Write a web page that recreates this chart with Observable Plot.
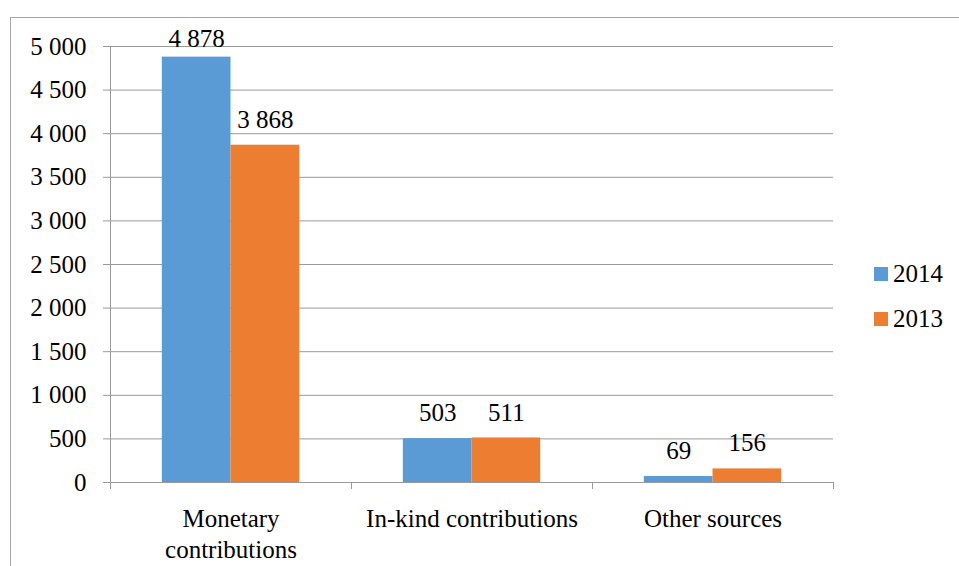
<!DOCTYPE html>
<html>
<head>
<meta charset="utf-8">
<script src="https://cdn.jsdelivr.net/npm/d3@7"></script>
<script src="https://cdn.jsdelivr.net/npm/@observablehq/plot@0.6"></script>
<style>
  body { margin: 0; background: #fff; }
  #chart {
    position: relative; width: 959px; height: 566px; overflow: hidden;
    font-family: 'Liberation Serif', 'Times New Roman', 'DejaVu Serif', serif; color: #000;
  }
  #chart svg { position: absolute; left: 0; top: 0; }
  #border {
    position: absolute; left: 10px; top: 17px; right: -2px; bottom: -2px;
    border-left: 1px solid #a6a6a6; border-top: 1px solid #a6a6a6;
  }
  #legend { position: absolute; left: 874px; top: 251px; font-size: 25px; }
  #legend .item { display: flex; align-items: center; height: 45px; }
  #legend .sw { width: 14px; height: 14px; margin-right: 5px; }
</style>
</head>
<body>
<div id="chart"><div id="border"></div><div id="legend"></div></div>
<script>
// Funding sources, 2014 vs 2013
const categories = ["Monetary\ncontributions", "In-kind contributions", "Other sources"];
const series = ["2014", "2013"];
const values2014 = [4878, 503, 69];
const values2013 = [3868, 511, 156];
const seriesColors = ["#5B9BD5", "#ED7D31"];
const yTicks = [0, 500, 1000, 1500, 2000, 2500, 3000, 3500, 4000, 4500, 5000];

const yMax = 5000;
const barWidth = 0.285;   // share of a category slot taken by each bar
const labelGap = 200;     // value labels sit just above their bar
const gridColor = "#999";
const fontSize = 25;
const serifFont = "'Liberation Serif', 'Times New Roman', 'DejaVu Serif', serif";
const fmt = d3.formatLocale({decimal: ".", thousands: " ", grouping: [3], currency: ["", ""]}).format(",");

const seriesValues = [values2014, values2013];
const rows = series.flatMap((s, k) =>
  categories.map((c, i) => ({category: c, index: i, series: s, k, value: seriesValues[k][i]}))
);

function draw() {
  const plot = Plot.plot({
    width: 959,
    height: 566,
    marginLeft: 110,
    marginRight: 126,
    marginTop: 46,
    marginBottom: 84,
    style: {
      fontFamily: serifFont,
      fontSize: fontSize + "px",
      background: "transparent",
      color: "#000"
    },
    x: {domain: [-0.5, categories.length - 0.5], axis: null},
    y: {domain: [0, yMax], axis: null},
    color: {domain: series, range: seriesColors},
    marks: [
      Plot.gridY(yTicks, {stroke: gridColor, strokeOpacity: 1}),
      Plot.axisY(yTicks, {
        tickSize: 7, tickPadding: 17, stroke: gridColor, fill: "#000",
        tickFormat: fmt, label: null
      }),
      Plot.ruleX([-0.5], {y1: 0, y2: yMax, stroke: gridColor}),
      Plot.axisX(d3.range(categories.length + 1).map(i => i - 0.5), {
        tickSize: 7, stroke: gridColor, tickFormat: () => "", label: null
      }),
      Plot.rectY(rows, {
        x1: d => d.index + (d.k - 1) * barWidth,
        x2: d => d.index + d.k * barWidth,
        y1: 0,
        y2: "value",
        fill: "series"
      }),
      Plot.text(rows, {
        x: d => d.index + (d.k - 0.5) * barWidth,
        y: d => Math.min(d.value + labelGap, yMax),
        text: d => fmt(d.value),
        lineAnchor: "bottom",
        fill: "#000"
      }),
      Plot.text(categories, {
        x: (d, i) => i,
        y: 0,
        text: d => d,
        lineAnchor: "top",
        dy: 22,
        lineHeight: 1.24,
        fill: "#000"
      })
    ]
  });

  document.getElementById("chart").prepend(plot);

  const legend = document.getElementById("legend");
  series.forEach((s, k) => {
    const item = document.createElement("div");
    item.className = "item";
    const sw = document.createElement("span");
    sw.className = "sw";
    sw.style.background = seriesColors[k];
    const label = document.createElement("span");
    label.textContent = s;
    item.append(sw, label);
    legend.append(item);
  });
}

// make sure the serif face is ready before text is laid out
if (document.fonts && document.fonts.load) {
  document.fonts.load(fontSize + "px 'Liberation Serif'").then(draw, draw);
} else {
  draw();
}
</script>
</body>
</html>
